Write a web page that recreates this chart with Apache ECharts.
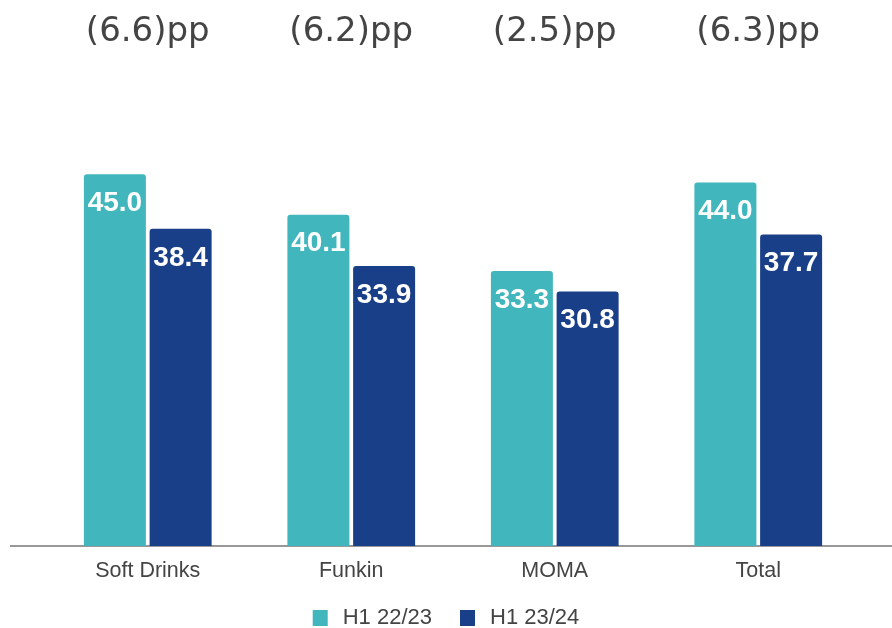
<!DOCTYPE html>
<html>
<head>
<meta charset="utf-8">
<script src="https://cdn.jsdelivr.net/npm/echarts@6/dist/echarts.min.js"></script>
<style>
  html, body { margin: 0; padding: 0; background: #fff; }
  #chart { width: 892px; height: 628px; }
</style>
</head>
<body>
<div id="chart"></div>
<script>
const categories = ['Soft Drinks', 'Funkin', 'MOMA', 'Total']
const changeLabels = ['(6.6)pp', '(6.2)pp', '(2.5)pp', '(6.3)pp']
const h1_2223 = [45.0, 40.1, 33.3, 44.0]
const h1_2324 = [38.4, 33.9, 30.8, 37.7]

const chart = echarts.init(document.getElementById('chart'))

const barLabel = {
  show: true,
  position: 'insideTop',
  distance: 15,
  color: '#fff',
  fontSize: 28,
  fontWeight: 'bold',
  fontFamily: 'Arial, "Liberation Sans", sans-serif',
  formatter: p => p.value.toFixed(1)
}

chart.setOption({
  animation: false,
  grid: { left: 46, right: 32, top: 133, bottom: 82 },
  legend: {
    top: 602,
    left: 'center',
    itemWidth: 15,
    itemHeight: 16,
    itemGap: 28,
    icon: 'rect',
    textStyle: { color: '#444', fontSize: 22, fontFamily: 'Arial, "Liberation Sans", sans-serif', padding: [0, 0, 0, 10] },
    data: ['H1 22/23', 'H1 23/24']
  },
  xAxis: [
    {
      type: 'category',
      data: categories,
      axisLine: { show: false },
      axisTick: { show: false },
      axisLabel: { color: '#444', fontSize: 21.5, margin: 14, fontFamily: 'Arial, "Liberation Sans", sans-serif' }
    },
    {
      type: 'category',
      position: 'top',
      data: changeLabels,
      axisLine: { show: false },
      axisTick: { show: false },
      axisLabel: { color: '#444', fontSize: 34, margin: 84, fontFamily: '"DejaVu Sans", sans-serif' }
    }
  ],
  yAxis: {
    type: 'value',
    min: 0,
    max: 50,
    show: false
  },
  graphic: [
    {
      type: 'line',
      shape: { x1: 10, y1: 546, x2: 892, y2: 546 },
      style: { stroke: '#333', lineWidth: 1.2 }
    }
  ],
  series: [
    {
      name: 'H1 22/23',
      type: 'bar',
      data: h1_2223,
      barWidth: 62,
      barGap: '6%',
      itemStyle: { color: '#41b7bd', borderRadius: [3, 3, 0, 0] },
      label: barLabel
    },
    {
      name: 'H1 23/24',
      type: 'bar',
      data: h1_2324,
      barWidth: 62,
      barGap: '6%',
      itemStyle: { color: '#1a3f89', borderRadius: [3, 3, 0, 0] },
      label: barLabel
    }
  ]
})
</script>
</body>
</html>
